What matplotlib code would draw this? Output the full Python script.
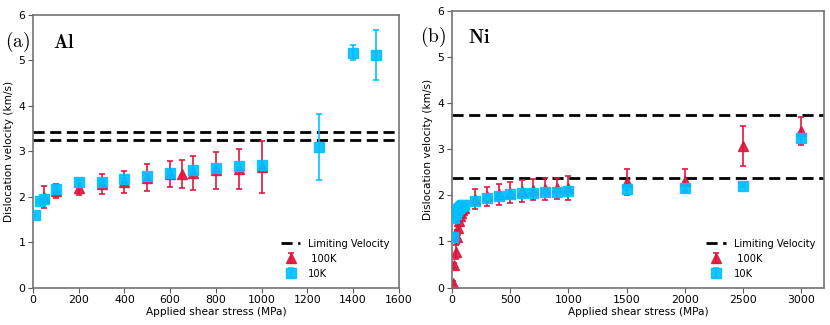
import matplotlib
matplotlib.use("Agg")
import matplotlib.pyplot as plt
import numpy as np

plt.rcParams['mathtext.fontset'] = 'cm'

RED = '#e0143c'
CYAN = '#00bfff'

# ---- Al data ----
al_10k_x = [10, 30, 50, 100, 200, 300, 400, 500, 600, 700, 800, 900, 1000, 1250, 1400, 1500]
al_10k_y = [1.60, 1.90, 1.95, 2.18, 2.33, 2.33, 2.39, 2.46, 2.53, 2.59, 2.63, 2.67, 2.70, 3.09, 5.17, 5.12]
al_10k_e = [0.02, 0.02, 0.02, 0.03, 0.03, 0.03, 0.03, 0.03, 0.03, 0.03, 0.03, 0.03, 0.03, 0.72, 0.16, 0.55]

al_100k_x = [50, 100, 200, 300, 400, 500, 600, 650, 700, 800, 900, 1000]
al_100k_y = [1.99, 2.12, 2.20, 2.28, 2.33, 2.42, 2.50, 2.50, 2.52, 2.58, 2.62, 2.65]
al_100k_e = [0.24, 0.15, 0.17, 0.22, 0.24, 0.30, 0.28, 0.31, 0.38, 0.40, 0.44, 0.57]

al_limits = [3.42, 3.24]

# ---- Ni data ----
ni_10k_x = [10, 20, 30, 40, 50, 60, 70, 80, 90, 100, 200, 300, 400, 500, 600, 700, 800, 900, 1000, 1500, 2000, 2500, 3000]
ni_10k_y = [1.10, 1.50, 1.60, 1.66, 1.70, 1.73, 1.75, 1.77, 1.79, 1.80, 1.88, 1.94, 1.98, 2.02, 2.04, 2.06, 2.07, 2.08, 2.09, 2.14, 2.15, 2.21, 3.25]
ni_10k_e = [0.03] * 23

ni_100k_x = [10, 20, 30, 40, 50, 60, 70, 80, 90, 100, 200, 300, 400, 500, 600, 700, 800, 900, 1000, 1500, 2000, 2500, 3000]
ni_100k_y = [0.10, 0.48, 0.77, 1.10, 1.30, 1.45, 1.55, 1.62, 1.68, 1.72, 1.92, 1.98, 2.02, 2.06, 2.10, 2.12, 2.14, 2.15, 2.16, 2.28, 2.32, 3.07, 3.40]
ni_100k_e = [0.05, 0.05, 0.15, 0.15, 0.15, 0.12, 0.12, 0.12, 0.12, 0.12, 0.21, 0.21, 0.22, 0.23, 0.24, 0.23, 0.24, 0.23, 0.26, 0.28, 0.25, 0.43, 0.30]

ni_limits = [3.73, 2.37]

fig = plt.figure(figsize=(8.3, 3.25), dpi=100)
ax1 = fig.add_axes([0.0398, 0.115, 0.4406, 0.839])
ax2 = fig.add_axes([0.5446, 0.115, 0.4487, 0.852])


def draw(ax, x10, y10, e10, x100, y100, e100, limits, xmax, xticks):
    l1 = None
    for v in limits:
        l1 = ax.axhline(v, color='black', ls='--', lw=2, dashes=(4, 2), zorder=1)
    h100 = ax.errorbar(x100, y100, yerr=e100, fmt='^', color=RED, ms=6.5,
                       capsize=2.5, elinewidth=1.3, capthick=1.3, alpha=0.9, zorder=2)
    h10 = ax.errorbar(x10, y10, yerr=e10, fmt='s', color=CYAN, ms=7,
                      capsize=2.5, elinewidth=1.3, capthick=1.3, alpha=0.9, zorder=3)
    ax.set_xlim(0, xmax)
    ax.set_ylim(0, 6)
    ax.set_xticks(xticks)
    ax.set_yticks(range(0, 7))
    ax.tick_params(labelsize=7.8, length=3.5, color='0.35', pad=2)
    for s in ax.spines.values():
        s.set_color('0.45')
        s.set_linewidth(1.2)
    ax.set_xlabel('Applied shear stress (MPa)', fontsize=7.6, labelpad=1)
    ax.set_ylabel('Dislocation velocity (km/s)', fontsize=7.6, labelpad=3)
    ax.legend([l1, h100, h10], ['Limiting Velocity', ' 100K', '10K'], loc='lower right',
              frameon=False, fontsize=7.1, bbox_to_anchor=(1.0, 0.0))


draw(ax1, al_10k_x, al_10k_y, al_10k_e, al_100k_x, al_100k_y, al_100k_e, al_limits,
     1600, range(0, 1601, 200))
draw(ax2, ni_10k_x, ni_10k_y, ni_10k_e, ni_100k_x, ni_100k_y, ni_100k_e, ni_limits,
     3200, range(0, 3001, 500))

ax1.text(-0.077, 0.90, r'$\mathrm{(a)}$', transform=ax1.transAxes, fontsize=14,
         va='center', ha='left')
ax1.text(0.055, 0.90, r'$\mathbf{Al}$', transform=ax1.transAxes, fontsize=14,
         va='center', ha='left')
ax2.text(-0.086, 0.905, r'$\mathrm{(b)}$', transform=ax2.transAxes, fontsize=14,
         va='center', ha='left')
ax2.text(0.043, 0.905, r'$\mathbf{Ni}$', transform=ax2.transAxes, fontsize=14,
         va='center', ha='left')

fig.savefig('out.png', dpi=100)
